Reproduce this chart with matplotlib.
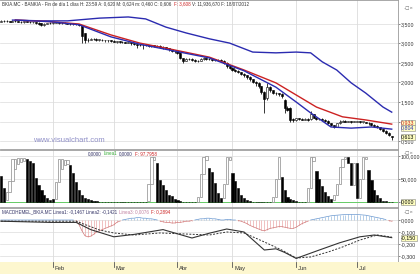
import numpy as np
import pandas as pd
import matplotlib
matplotlib.use('Agg')
import matplotlib.pyplot as plt
from matplotlib.ticker import FixedLocator, FuncFormatter

plt.rcParams['font.family'] = ['Liberation Sans', 'DejaVu Sans']

W, H = 420, 274

# ---------------- data ----------------
dates = pd.bdate_range('2012-01-06', '2012-07-18')
holidays = pd.to_datetime(['2012-04-06', '2012-04-09', '2012-05-01'])
dates = dates[~dates.isin(holidays)]

opens = [3.56,3.57,3.58,3.57,3.56,3.58,3.57,3.56,3.55,3.57,3.56,3.55,3.54,3.53,3.52,3.48,3.50,3.52,
         3.53,3.53,3.54,3.52,3.53,3.52,3.51,3.50,3.50,3.49,3.47,3.26,3.08,3.10,3.12,3.11,3.10,3.10,3.09,3.08,3.08,
         3.06,3.05,3.05,3.04,3.03,3.02,3.03,3.00,2.98,2.96,2.97,2.95,2.96,2.94,2.95,2.93,2.94,2.92,2.90,2.88,2.85,2.82,
         2.80,2.76,2.62,2.56,2.60,2.60,2.58,2.55,2.56,2.60,2.62,2.60,2.60,2.58,2.58,2.57,2.55,2.50,2.42,
         2.38,2.32,2.30,2.26,2.22,2.18,2.15,2.08,2.02,1.98,1.90,1.75,1.60,1.88,1.80,1.74,1.72,1.70,1.55,1.35,1.35,1.05,
         1.04,1.08,1.07,1.05,1.06,1.06,1.18,1.10,1.07,1.06,1.05,1.02,0.95,0.90,0.87,0.95,1.00,1.02,1.00,1.00,0.99,
         1.00,1.00,0.99,0.99,0.97,0.95,0.92,0.88,0.86,0.80,0.75,0.70,0.62]
highs = [3.59,3.60,3.59,3.58,3.59,3.59,3.58,3.57,3.58,3.58,3.57,3.56,3.55,3.54,3.53,3.52,3.53,3.55,
         3.55,3.56,3.55,3.55,3.54,3.53,3.52,3.52,3.51,3.50,3.48,3.28,3.13,3.14,3.14,3.13,3.12,3.11,3.10,3.10,3.09,
         3.08,3.07,3.07,3.06,3.05,3.05,3.04,3.01,2.99,2.98,2.98,2.97,2.97,2.96,2.96,2.95,2.95,2.93,2.91,2.89,2.86,2.84,
         2.82,2.78,2.64,2.63,2.63,2.62,2.60,2.58,2.62,2.65,2.64,2.62,2.62,2.60,2.60,2.59,2.57,2.52,2.44,
         2.40,2.34,2.32,2.28,2.25,2.20,2.16,2.10,2.04,2.00,1.92,1.78,1.98,1.90,1.82,1.76,1.74,1.72,1.58,1.40,1.38,1.10,
         1.10,1.10,1.09,1.08,1.08,1.26,1.20,1.11,1.09,1.08,1.06,1.03,0.97,0.92,0.97,1.03,1.04,1.03,1.02,1.01,1.02,
         1.02,1.01,1.00,1.00,0.98,0.96,0.93,0.90,0.87,0.82,0.77,0.72,0.624]
lows = [3.54,3.55,3.55,3.54,3.55,3.55,3.54,3.53,3.53,3.54,3.53,3.52,3.50,3.48,3.44,3.46,3.49,3.50,
        3.51,3.52,3.50,3.51,3.50,3.49,3.48,3.48,3.47,3.45,3.02,3.00,3.05,3.08,3.08,3.07,3.07,3.06,3.05,3.05,3.03,
        3.03,3.02,3.02,3.01,3.00,3.00,2.97,2.95,2.88,2.94,2.85,2.93,2.91,2.92,2.90,2.91,2.89,2.87,2.85,2.82,2.79,2.76,
        2.74,2.60,2.50,2.54,2.57,2.55,2.52,2.53,2.54,2.58,2.58,2.57,2.56,2.55,2.54,2.52,2.47,2.38,2.34,
        2.30,2.27,2.24,2.18,2.14,2.10,2.04,1.98,1.92,1.85,1.70,1.22,1.55,1.76,1.70,1.68,1.66,1.60,1.22,1.26,1.00,1.00,
        1.02,1.05,1.03,1.03,1.02,1.05,1.08,1.05,1.04,1.03,1.00,0.93,0.88,0.84,0.86,0.94,0.99,0.98,0.98,0.97,0.98,
        0.98,0.97,0.97,0.95,0.92,0.89,0.85,0.83,0.77,0.72,0.67,0.62,0.52]
closes = [3.57,3.58,3.57,3.56,3.58,3.57,3.56,3.55,3.57,3.56,3.55,3.54,3.52,3.50,3.48,3.50,3.52,3.53,
          3.53,3.54,3.52,3.53,3.52,3.51,3.50,3.50,3.49,3.47,3.20,3.08,3.10,3.12,3.11,3.10,3.10,3.09,3.08,3.08,3.06,
          3.05,3.05,3.04,3.03,3.02,3.03,3.00,2.98,2.96,2.97,2.95,2.96,2.94,2.95,2.93,2.94,2.92,2.90,2.88,2.85,2.82,2.80,
          2.76,2.62,2.55,2.60,2.60,2.58,2.55,2.56,2.60,2.62,2.60,2.60,2.58,2.58,2.57,2.55,2.50,2.42,2.38,
          2.32,2.30,2.26,2.22,2.18,2.15,2.08,2.02,1.98,1.90,1.75,1.58,1.88,1.80,1.74,1.72,1.70,1.65,1.35,1.30,1.05,1.04,
          1.08,1.07,1.05,1.06,1.04,1.20,1.10,1.07,1.06,1.05,1.02,0.95,0.90,0.87,0.95,1.00,1.02,1.00,1.00,0.99,1.00,
          1.00,0.99,0.99,0.97,0.95,0.92,0.88,0.86,0.80,0.75,0.70,0.66,0.606]

# indicator lines on the price panel, read at sample bars
upper_idx = [4, 14, 23, 34, 44, 50, 57, 64, 72, 79, 87, 95, 102, 107, 111, 116, 121, 126, 132, 135]
upper_val = [3.60, 3.58, 3.58, 3.65, 3.68, 3.63, 3.42, 3.27, 3.12, 3.01, 2.78, 2.76, 2.78, 2.76, 2.53, 2.32, 1.99, 1.73, 1.37, 1.24]
red_idx = [5, 17, 27, 38, 48, 57, 72, 84, 95, 102, 109, 118, 126, 135]
red_val = [3.60, 3.56, 3.50, 3.22, 3.01, 2.88, 2.65, 2.32, 1.99, 1.68, 1.37, 1.12, 1.04, 0.933]
blue_idx = [5, 17, 27, 38, 48, 57, 72, 84, 95, 102, 107, 114, 121, 128, 135]
blue_val = [3.60, 3.56, 3.48, 3.17, 2.98, 2.85, 2.63, 2.30, 1.88, 1.50, 1.22, 0.86, 0.83, 0.86, 0.804]

# oscillator candles per bar (open, close)
stoch_open = [57,30,5,21,46,72,83,88,90,93,90,85,52,37,26,15,9,4,
              7,7,43,72,80,82,80,62,43,26,15,9,6,4,3,2,1,1,1,1,1,
              1,1,1,1,1,1,1,1,1,1,1,1,2,40,92,84,48,37,26,15,12,6,
              4,2,1,1,1,1,1,1,10,60,92,73,65,41,19,9,9,40,92,
              63,45,30,15,8,4,2,1,1,1,1,1,1,1,1,10,50,55,26,11,6,4,
              2,1,1,1,1,30,90,67,50,35,22,12,6,4,15,40,75,93,98,84,
              37,84,8,50,93,70,48,26,15,8,3,2,1,1]
stoch_close = [0,0,21,46,93,93,95,95,95,0,0,0,0,0,0,0,0,0,
               0,43,93,93,92,92,0,0,0,0,0,0,0,0,0,0,0,0,0,0,0,
               0,0,0,0,0,0,0,0,0,0,0,0,40,98,98,0,0,0,0,0,0,0,
               0,0,0,0,0,0,0,10,60,98,100,0,0,0,0,0,40,98,98,
               0,0,0,0,0,0,0,0,0,0,0,0,0,0,10,50,98,0,0,0,0,0,
               0,0,0,0,30,98,98,0,0,0,0,0,0,15,40,75,93,98,84,37,
               84,8,50,98,98,0,0,0,0,0,0,0,0,0]

# MACD lines, read at sample bars, and histogram per bar
macd_idx = [0, 17, 26, 31, 39, 46, 56, 66, 72, 78, 84, 91, 95, 98, 102, 110, 117, 124, 129, 135]
macd_val = [-0.01, -0.02, -0.02, -0.08, -0.14, -0.12, -0.08, -0.15, -0.11, -0.075, -0.10, -0.25, -0.24, -0.27, -0.32, -0.25, -0.19, -0.14, -0.125, -0.147]
sig_idx = [0, 26, 34, 39, 46, 55, 64, 72, 78, 84, 91, 97, 102, 107, 113, 118, 124, 130, 135]
sig_val = [-0.01, -0.01, -0.083, -0.108, -0.125, -0.108, -0.117, -0.125, -0.10, -0.108, -0.183, -0.25, -0.317, -0.308, -0.267, -0.225, -0.167, -0.125, -0.142]
hist = [0.0]*26 + [-0.005,-0.04,-0.09,-0.13,-0.14,-0.135,-0.12,-0.10,-0.09,-0.08,-0.07,-0.06,-0.05,-0.04,-0.02,-0.01,0.0,0.005,
        0.01,0.015,0.015,0.02,0.02,0.015,0.015,0.01,0.01,0.005,0.0,
        -0.01,-0.015,-0.02,-0.02,-0.025,-0.025,-0.02,-0.02,-0.015,-0.01,-0.01,-0.005,0.0,0.005,0.01,
        0.01,0.015,0.015,0.01,0.01,0.005,0.0,0.0,0.005,0.005,0.0,0.0,-0.005,
        -0.01,-0.02,-0.03,-0.045,-0.055,-0.065,-0.075,-0.085,-0.09,-0.08,-0.07,-0.065,-0.06,-0.055,-0.055,
        -0.06,-0.065,-0.07,-0.07,-0.06,-0.045,-0.03,-0.02,-0.01,0.0,0.005,0.01,0.015,0.02,0.025,0.03,0.035,
        0.038,0.04,0.042,0.044,0.045,0.046,0.046,0.045,0.045,0.044,0.042,0.04,0.035,0.03,0.025,0.02,
        0.015,0.01,0.003,-0.005,-0.01]

month_names = {2: 'Feb', 3: 'Mar', 4: 'Abr', 5: 'May', 6: 'Jun', 7: 'Jul'}

# ---------------- figure ----------------
fig = plt.figure(figsize=(W/100, H/100), dpi=100)
fig.patch.set_facecolor('white')

def add_ax(x0, y0, x1, y1):
    return fig.add_axes([x0/W, 1 - y1/H, (x1-x0)/W, (y1-y0)/H])

n = len(closes)
xs = np.arange(n)
XL = (-0.31, 137.17)
month_starts = [i for i in range(1, len(dates)) if dates[i].month != dates[i-1].month]

GRID = '#dcdcdc'
TXT = '#333333'
FS = 3.8
TFS = 3.25

def style(ax, ylim, ticks, fmt):
    ax.set_xlim(*XL)
    ax.set_ylim(*ylim)
    ax.set_xticks([])
    ax.yaxis.tick_right()
    ax.yaxis.set_major_locator(FixedLocator(ticks))
    ax.yaxis.set_major_formatter(FuncFormatter(fmt))
    ax.tick_params(axis='y', length=1.2, width=0.4, pad=0.6, labelsize=FS, colors=TXT)
    for s in ax.spines.values():
        s.set_color('#9a9a9a')
        s.set_linewidth(0.6)
    ax.spines['left'].set_visible(False)
    for m in month_starts:
        ax.axvline(m, color=GRID, lw=0.6, zorder=0)
    for t in ticks:
        ax.axhline(t, color=GRID, lw=0.5, zorder=0)

def chain(ax, x, y, parts):
    t = ax.text(x, y, parts[0][0], color=parts[0][1], transform=ax.transAxes, fontsize=TFS, va='top', ha='left')
    for s, col in parts[1:]:
        t = ax.annotate(s, xy=(1, 0), xycoords=t, xytext=(1.3, 0), textcoords='offset points',
                        color=col, fontsize=TFS, va='bottom', ha='left')

def icons(ytop):
    fig.text(404/W, 1 - ytop/H, '–□×', fontsize=3.2, color='#666666', va='top', ha='left',
             family=['DejaVu Sans'])

fmt3 = lambda v, p: f"{v:.3f}".replace('.', ',')

def tag(ax, val, label, col, dy_pts=0):
    ax.annotate(label, xy=(1.0, val), xycoords=('axes fraction', 'data'), xytext=(2.2, dy_pts),
                textcoords='offset points', fontsize=FS, color=col, va='center', ha='left',
                annotation_clip=False, zorder=10,
                bbox=dict(boxstyle='square,pad=0.08', fc='#ffffc0', ec='#888888', lw=0.4))

# price panel
axp = add_ax(0, 0, 398, 149)
style(axp, (0.295, 4.115), [0.5, 1.0, 1.5, 2.0, 2.5, 3.0, 3.5], fmt3)
o = np.array(opens); h = np.array(highs); l = np.array(lows); c = np.array(closes)
axp.vlines(xs, l, h, color='black', lw=0.55, zorder=3)
up = c >= o
body_lo = np.minimum(o, c)
body_h = np.maximum(np.abs(c - o), 0.012)
axp.bar(xs[up], body_h[up], bottom=body_lo[up], width=0.7, facecolor='white', edgecolor='black', lw=0.4, zorder=4)
axp.bar(xs[~up], body_h[~up], bottom=body_lo[~up], width=0.7, facecolor='black', edgecolor='black', lw=0.4, zorder=4)
axp.plot(upper_idx, upper_val, color='#2b2bb0', lw=1.0, zorder=5)
axp.plot(red_idx, red_val, color='#cc2222', lw=1.0, zorder=5)
axp.plot(blue_idx, blue_val, color='#2b2bb0', lw=1.0, zorder=5)
chain(axp, 0.006, 0.99, [('BKIA.MC - BANKIA - Fin de día 1 días H: 23:59 A: 0,620 M: 0,624 m: 0,460 C: 0,606', TXT),
                         ('F: 3,608', '#cc2222'), ('V: 11,936,670 F: 18/07/2012', TXT)])
axp.text(33/398, 0.035, 'www.visualchart.com', transform=axp.transAxes, fontsize=5.5, color='#9090c8',
         va='bottom', ha='left')
tag(axp, 0.933, '0,933', '#cc2222', 1.2)
tag(axp, 0.804, '0,804', '#2b2bb0', 0.8)
tag(axp, 0.613, '0,613', 'black', 0)
icons(6)

# oscillator panel
axs = add_ax(0, 150, 398, 207)
style(axs, (-10.9, 113), [0, 50, 100], fmt3)
so = np.array(stoch_open, float); sc = np.array(stoch_close, float)
rise = sc >= so
lo = np.minimum(so, sc); hh = np.maximum(np.abs(sc - so), 0.8)
axs.bar(xs[rise], hh[rise], bottom=lo[rise], width=0.75, facecolor='white', edgecolor='#8a8a8a', lw=0.5, zorder=3)
axs.bar(xs[~rise], hh[~rise], bottom=lo[~rise], width=0.75, facecolor='black', edgecolor='black', lw=0.4, zorder=3)
axs.axhline(0, color='#66cc66', lw=0.7, zorder=2)
chain(axs, 88/398, 0.975, [('0,0000', '#333366'), ('Linea1', '#33aa33'), ('0,0000', '#333366'), ('F: 97,7958', '#cc2222')])
tag(axs, 0, '0,000', 'black', 0)
icons(151)

# MACD panel
axm = add_ax(0, 208, 398, 262)
style(axm, (-0.35, 0.1), [0.0, -0.1, -0.2, -0.3], fmt3)
hv = np.array(hist)
axm.vlines(xs[hv < 0], 0, hv[hv < 0], color='#eaa8a8', lw=0.5, zorder=2)
axm.vlines(xs[hv >= 0], 0, hv[hv >= 0], color='#98bce0', lw=0.5, zorder=2)
axm.plot(xs, np.where(hv < 0, hv, np.nan), color='#d07878', lw=0.5, zorder=2)
axm.plot(xs, np.where(hv >= 0, hv, np.nan), color='#6a98d0', lw=0.5, zorder=2)
axm.plot(macd_idx, macd_val, color='#333333', lw=0.8, zorder=4)
axm.plot(sig_idx, sig_val, color='#333333', lw=0.7, ls=(0, (2, 1.5)), zorder=4)
chain(axm, 0.006, 0.975, [('MACDHEMEL_BKIA.MC Linea1: -0,1467 Linea2: -0,1421', '#333366'),
                          ('Linea3: 0,0076', '#c080a0'), ('F: 0,2894', '#cc2222')])
tag(axm, -0.147, '-0,150', 'black', 0)
icons(210)

# date bar
axd = add_ax(0, 262, 420, 274)
axd.set_facecolor('#fdf7cf')
axd.set_xlim(XL[0], XL[0] + (XL[1] - XL[0]) * 420 / 398)
axd.set_ylim(0, 1)
axd.set_xticks([]); axd.set_yticks([])
for s in axd.spines.values():
    s.set_visible(False)
for m in month_starts:
    axd.plot([m, m], [1, 0.55], color='#555555', lw=0.6)
    axd.text(m + 0.6, 0.42, month_names[dates[m].month], fontsize=4.2, color=TXT, va='center', ha='left')

fig.savefig('out.png', dpi=100, facecolor='white')
